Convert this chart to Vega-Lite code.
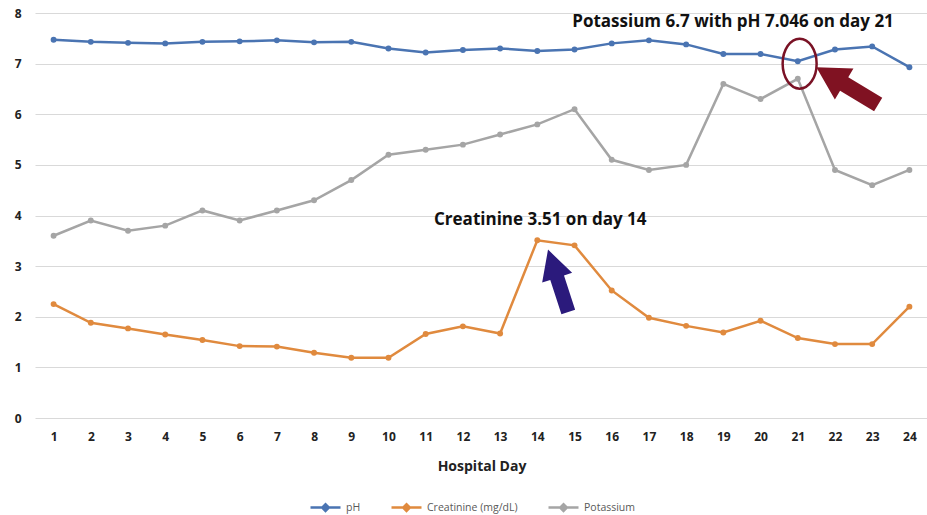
{
  "$schema": "https://vega.github.io/schema/vega-lite/v6.json",
  "width": 893,
  "height": 405,
  "autosize": "none",
  "padding": {"left": 35, "top": 13, "right": 0, "bottom": 97},
  "background": "white",
  "config": {"view": {"stroke": null}, "font": "Open Sans"},
  "datasets": {
    "series": [
      {"day": 1, "series": "pH", "value": 7.47}, {"day": 2, "series": "pH", "value": 7.43}, {"day": 3, "series": "pH", "value": 7.41}, {"day": 4, "series": "pH", "value": 7.40}, {"day": 5, "series": "pH", "value": 7.43}, {"day": 6, "series": "pH", "value": 7.44}, {"day": 7, "series": "pH", "value": 7.46}, {"day": 8, "series": "pH", "value": 7.42}, {"day": 9, "series": "pH", "value": 7.43}, {"day": 10, "series": "pH", "value": 7.30}, {"day": 11, "series": "pH", "value": 7.22}, {"day": 12, "series": "pH", "value": 7.27}, {"day": 13, "series": "pH", "value": 7.30}, {"day": 14, "series": "pH", "value": 7.25}, {"day": 15, "series": "pH", "value": 7.28}, {"day": 16, "series": "pH", "value": 7.40}, {"day": 17, "series": "pH", "value": 7.46}, {"day": 18, "series": "pH", "value": 7.38}, {"day": 19, "series": "pH", "value": 7.19}, {"day": 20, "series": "pH", "value": 7.19}, {"day": 21, "series": "pH", "value": 7.046}, {"day": 22, "series": "pH", "value": 7.28}, {"day": 23, "series": "pH", "value": 7.34}, {"day": 24, "series": "pH", "value": 6.93},
      {"day": 1, "series": "Creatinine (mg/dL)", "value": 2.25}, {"day": 2, "series": "Creatinine (mg/dL)", "value": 1.88}, {"day": 3, "series": "Creatinine (mg/dL)", "value": 1.77}, {"day": 4, "series": "Creatinine (mg/dL)", "value": 1.65}, {"day": 5, "series": "Creatinine (mg/dL)", "value": 1.54}, {"day": 6, "series": "Creatinine (mg/dL)", "value": 1.42}, {"day": 7, "series": "Creatinine (mg/dL)", "value": 1.41}, {"day": 8, "series": "Creatinine (mg/dL)", "value": 1.29}, {"day": 9, "series": "Creatinine (mg/dL)", "value": 1.19}, {"day": 10, "series": "Creatinine (mg/dL)", "value": 1.19}, {"day": 11, "series": "Creatinine (mg/dL)", "value": 1.66}, {"day": 12, "series": "Creatinine (mg/dL)", "value": 1.81}, {"day": 13, "series": "Creatinine (mg/dL)", "value": 1.67}, {"day": 14, "series": "Creatinine (mg/dL)", "value": 3.51}, {"day": 15, "series": "Creatinine (mg/dL)", "value": 3.41}, {"day": 16, "series": "Creatinine (mg/dL)", "value": 2.52}, {"day": 17, "series": "Creatinine (mg/dL)", "value": 1.98}, {"day": 18, "series": "Creatinine (mg/dL)", "value": 1.82}, {"day": 19, "series": "Creatinine (mg/dL)", "value": 1.69}, {"day": 20, "series": "Creatinine (mg/dL)", "value": 1.92}, {"day": 21, "series": "Creatinine (mg/dL)", "value": 1.58}, {"day": 22, "series": "Creatinine (mg/dL)", "value": 1.46}, {"day": 23, "series": "Creatinine (mg/dL)", "value": 1.46}, {"day": 24, "series": "Creatinine (mg/dL)", "value": 2.2},
      {"day": 1, "series": "Potassium", "value": 3.6}, {"day": 2, "series": "Potassium", "value": 3.9}, {"day": 3, "series": "Potassium", "value": 3.7}, {"day": 4, "series": "Potassium", "value": 3.8}, {"day": 5, "series": "Potassium", "value": 4.1}, {"day": 6, "series": "Potassium", "value": 3.9}, {"day": 7, "series": "Potassium", "value": 4.1}, {"day": 8, "series": "Potassium", "value": 4.3}, {"day": 9, "series": "Potassium", "value": 4.7}, {"day": 10, "series": "Potassium", "value": 5.2}, {"day": 11, "series": "Potassium", "value": 5.3}, {"day": 12, "series": "Potassium", "value": 5.4}, {"day": 13, "series": "Potassium", "value": 5.6}, {"day": 14, "series": "Potassium", "value": 5.8}, {"day": 15, "series": "Potassium", "value": 6.1}, {"day": 16, "series": "Potassium", "value": 5.1}, {"day": 17, "series": "Potassium", "value": 4.9}, {"day": 18, "series": "Potassium", "value": 5.0}, {"day": 19, "series": "Potassium", "value": 6.6}, {"day": 20, "series": "Potassium", "value": 6.3}, {"day": 21, "series": "Potassium", "value": 6.7}, {"day": 22, "series": "Potassium", "value": 4.9}, {"day": 23, "series": "Potassium", "value": 4.6}, {"day": 24, "series": "Potassium", "value": 4.9}
    ],
    "notes": [
      {"day": 19.26, "value": 7.83, "label": "Potassium 6.7 with pH 7.046 on day 21"},
      {"day": 14.08, "value": 3.91, "label": "Creatinine 3.51 on day 14"}
    ],
    "ring": [{"day": 21.05, "value": 7.0}],
    "redArrow": [{"day": 22.33, "value": 6.56}],
    "blueArrow": [{"day": 14.56, "value": 2.71}]
  },
  "encoding": {
    "x": {
      "field": "day", "type": "quantitative",
      "scale": {"domain": [0.5, 24.5], "nice": false, "zero": false},
      "axis": {
        "values": [1,2,3,4,5,6,7,8,9,10,11,12,13,14,15,16,17,18,19,20,21,22,23,24],
        "labelOverlap": false, "labelFlush": false,
        "grid": false, "domain": false, "ticks": false,
        "labelFont": "Open Sans", "labelFontWeight": "bold", "labelFontSize": 12, "labelColor": "#222222", "labelPadding": 13,
        "title": "Hospital Day", "titleFont": "Open Sans", "titleFontSize": 14, "titleFontWeight": "bold", "titleColor": "#222222", "titlePadding": 17
      }
    },
    "y": {
      "field": "value", "type": "quantitative",
      "scale": {"domain": [0, 8], "nice": false},
      "axis": {
        "values": [0,1,2,3,4,5,6,7,8],
        "labelOverlap": false, "labelFlush": false,
        "grid": true, "gridColor": "#d9d9d9", "gridWidth": 1, "domain": false, "ticks": false,
        "labelFont": "Open Sans", "labelFontWeight": "bold", "labelFontSize": 12, "labelColor": "#222222", "labelPadding": 14,
        "title": null
      }
    }
  },
  "layer": [
    {
      "data": {"name": "series"},
      "mark": {"type": "line", "strokeWidth": 2.5, "point": {"filled": true, "size": 35}},
      "encoding": {
        "color": {
          "field": "series", "type": "nominal",
          "scale": {"domain": ["pH", "Creatinine (mg/dL)", "Potassium"], "range": ["#4a74b2", "#e08a3e", "#a5a5a5"]},
          "legend": {
            "orient": "none", "legendX": 274, "legendY": 478, "direction": "horizontal", "title": null,
            "symbolType": "M -1 0 L 1 0 M -0.22 0 L 0 -0.22 L 0.22 0 L 0 0.22 Z",
            "symbolSize": 900, "symbolStrokeWidth": 2.5,
            "labelFont": "Open Sans", "labelFontSize": 10.5, "labelColor": "#595959", "columnPadding": 25,
            "encode": {"symbols": {"update": {"fill": {"scale": "color", "field": "value"}}}}
          }
        }
      }
    },
    {
      "data": {"name": "notes"},
      "mark": {"type": "text", "font": "Open Sans", "fontWeight": "bold", "fontSize": 17, "color": "#111111", "align": "center", "baseline": "middle"},
      "encoding": {
        "text": {"field": "label"}
      }
    },
    {
      "data": {"name": "ring"},
      "mark": {"type": "point", "shape": "M 0.68 0 A 0.68 1 0 1 1 -0.68 0 A 0.68 1 0 1 1 0.68 0 Z", "filled": false, "size": 2500, "stroke": "#7a1225", "strokeWidth": 2.5, "opacity": 1}
    },
    {
      "data": {"name": "redArrow"},
      "mark": {"type": "point", "shape": "M -0.22 1 L 0.22 1 L 0.22 -0.1 L 0.5 -0.1 L 0 -1 L -0.5 -0.1 L -0.22 -0.1 Z", "filled": true, "size": 5200, "fill": "#801222", "strokeWidth": 0, "angle": 301, "opacity": 1}
    },
    {
      "data": {"name": "blueArrow"},
      "mark": {"type": "point", "shape": "M -0.22 1 L 0.22 1 L 0.22 -0.1 L 0.48 -0.1 L 0 -1 L -0.48 -0.1 L -0.22 -0.1 Z", "filled": true, "size": 4300, "fill": "#2b1a7c", "strokeWidth": 0, "angle": 342, "opacity": 1}
    }
  ]
}
